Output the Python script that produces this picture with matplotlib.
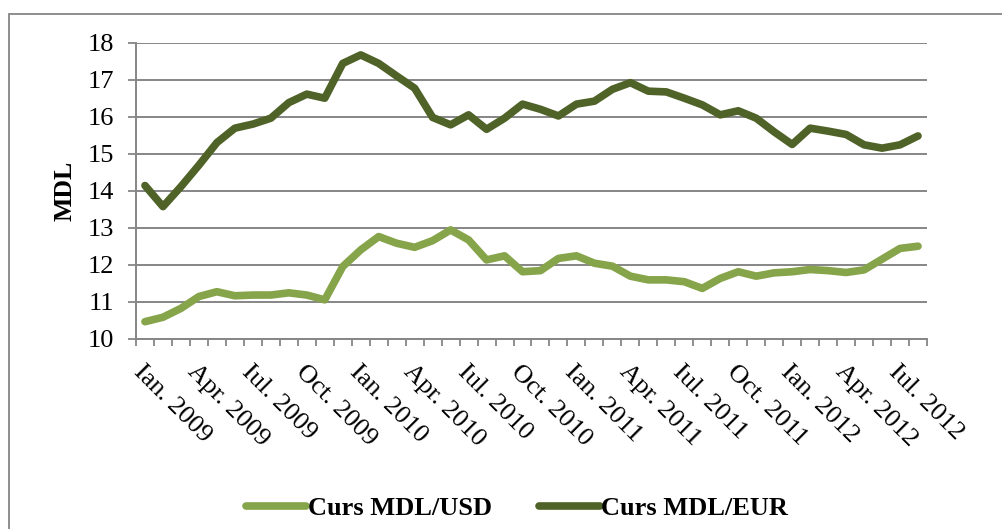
import matplotlib.pyplot as plt
from matplotlib.patches import Rectangle

# luni: ian. 2009 - aug. 2012
luni = ['Ian.', 'Feb.', 'Mar.', 'Apr.', 'Mai.', 'Iun.', 'Iul.', 'Aug.', 'Sep.', 'Oct.', 'Nov.', 'Dec.']
ani = [2009, 2010, 2011, 2012]
categorii = [f'{l} {a}' for a in ani for l in luni][:44]

curs_usd = [10.46, 10.58, 10.82, 11.14, 11.27, 11.16, 11.18, 11.18, 11.24, 11.18, 11.05,
            11.95, 12.40, 12.76, 12.58, 12.47, 12.65, 12.94, 12.67, 12.13, 12.24, 11.81,
            11.84, 12.17, 12.24, 12.04, 11.96, 11.69, 11.59, 11.59, 11.54, 11.36, 11.63,
            11.81, 11.69, 11.78, 11.81, 11.87, 11.84, 11.79, 11.86, 12.15, 12.44, 12.50]
curs_eur = [14.14, 13.57, 14.11, 14.69, 15.30, 15.69, 15.80, 15.96, 16.38, 16.61, 16.50,
            17.44, 17.67, 17.44, 17.10, 16.77, 15.98, 15.78, 16.05, 15.66, 15.96, 16.34,
            16.20, 16.02, 16.34, 16.42, 16.74, 16.92, 16.69, 16.67, 16.50, 16.32, 16.05,
            16.16, 15.96, 15.59, 15.25, 15.69, 15.61, 15.52, 15.24, 15.15, 15.24, 15.48]

gri = '#868686'
plt.rcParams['font.family'] = ['Liberation Serif', 'DejaVu Serif']

fig = plt.figure(figsize=(10.03, 5.29), dpi=100)
ax = fig.add_axes([136 / 1003, 1 - 338.7 / 529, (927 - 136) / 1003, 296 / 529])

# chenarul exterior
fig.patches.append(Rectangle((9 / 1003, -0.1), 1.2, 1 - 14 / 529 + 0.1, transform=fig.transFigure,
                             fill=False, edgecolor=gri, linewidth=1.3))

x = list(range(len(categorii)))
ax.plot(x, curs_usd, color='#86A44A', lw=5.5, solid_capstyle='round', solid_joinstyle='round',
        label='Curs MDL/USD')
ax.plot(x, curs_eur, color='#4F6228', lw=5.5, solid_capstyle='round', solid_joinstyle='round',
        label='Curs MDL/EUR')

ax.set_ylim(10, 18)
ax.set_xlim(-0.5, len(categorii) - 0.5)
ax.set_yticks(range(10, 19))
ax.yaxis.grid(True, color=gri, lw=1.4)
ax.set_axisbelow(True)
ax.tick_params(axis='y', length=6, width=1.3, color=gri, labelsize=19, pad=10)

ax.set_xticks(x[::3])
ax.set_xticklabels(categorii[::3], rotation=-45, ha='left', va='top', rotation_mode='anchor',
                   fontsize=19)
ax.set_xticks([i - 0.5 for i in range(len(categorii) + 1)], minor=True)
ax.tick_params(axis='x', which='major', length=0, pad=16)
ax.tick_params(axis='x', which='minor', length=5, width=1.3, color=gri)

for s in ['top', 'right']:
    ax.spines[s].set_visible(False)
for s in ['left', 'bottom']:
    ax.spines[s].set_color(gri)
    ax.spines[s].set_linewidth(1.4)

ax.set_ylabel('MDL', fontsize=18.5, fontweight='bold', labelpad=8)

fig.legend(loc='center', bbox_to_anchor=(517 / 1003, 1 - 508 / 529), ncol=2, frameon=False,
           prop={'size': 19, 'weight': 'bold'}, handlelength=2.3, handletextpad=0.05,
           columnspacing=1.8)

fig.savefig('out.png', dpi=100)
